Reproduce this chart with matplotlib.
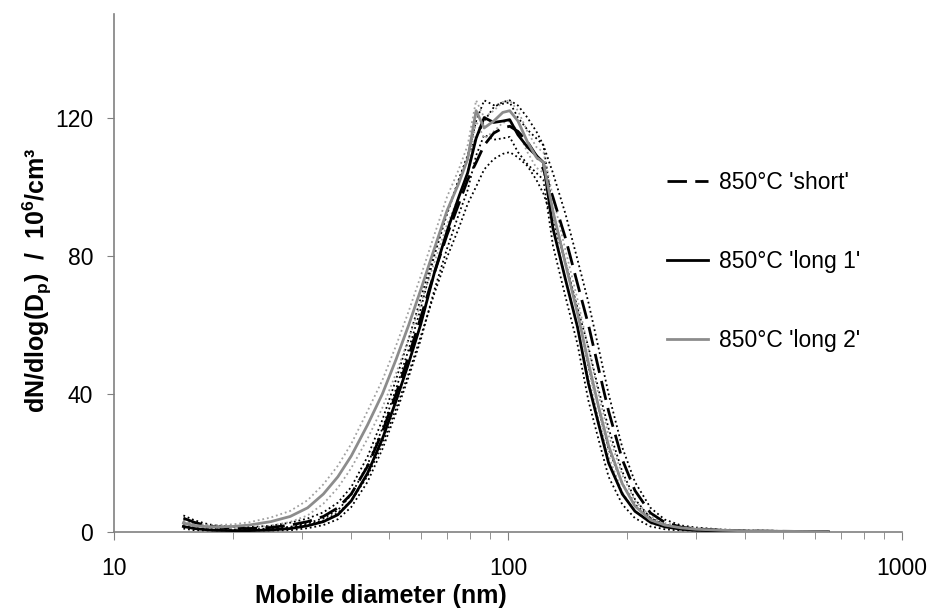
import matplotlib
matplotlib.use("Agg")
import matplotlib.pyplot as plt
import numpy as np

# mobility diameter bins (nm)
diameter = [15, 16, 17, 18, 20, 22, 25, 28, 31, 34, 37, 40, 44, 48, 52, 56, 60, 65, 70, 75,
            79, 83, 87, 92, 97, 101, 106, 112, 118, 123, 130, 140, 150, 160, 170, 180, 195,
            210, 230, 250, 275, 300, 350, 400, 500, 650]

# dN/dlog(Dp) in 10^6/cm3
short = [4.0, 2.8, 2.0, 1.5, 1.1, 1.0, 1.3, 2.0, 3.0, 4.5, 7.0, 11, 19, 29, 40, 51, 62, 75, 86, 95,
         102, 107, 112, 115.5, 117, 117.5, 116, 113, 109, 105, 97, 85, 72, 60, 47, 35, 21,
         12, 5.5, 2.8, 1.4, 0.9, 0.5, 0.3, 0.2, 0.1]
long1 = [1.6, 1.0, 0.7, 0.5, 0.4, 0.4, 0.6, 1.0, 1.8, 3.0, 5.0, 9, 17, 27, 38, 49, 60, 75, 87, 97,
         104, 114, 120, 118.6, 119, 119.4, 115, 111.5, 109, 107, 88, 73, 59.5, 43, 31, 20, 11,
         6, 2.8, 1.5, 0.8, 0.5, 0.3, 0.2, 0.15, 0.1]
long2 = [2.6, 1.9, 1.6, 1.5, 1.6, 2.0, 3.0, 4.5, 7.0, 11, 16, 22, 31, 40, 50, 60, 70, 82, 93, 101,
         108, 122, 117, 119, 121.5, 122, 119, 113, 108.5, 107, 93, 77.5, 63.5, 49, 36, 25, 14,
         7.5, 3.5, 2.0, 1.2, 0.8, 0.5, 0.35, 0.2, 0.1]

# spread between repeat scans (dotted bounds)
short_err = [0.8, 0.6, 0.5, 0.4, 0.4, 0.4, 0.5, 0.7, 0.9, 1.2, 1.5, 2, 2.8, 3.5, 4.2, 5, 5.5, 6, 6.5, 7,
             7, 7, 7, 7.5, 7.5, 7.5, 7.5, 7, 7, 7, 7, 7, 7, 6.5, 6, 5, 3.5,
             2.5, 1.5, 0.8, 0.5, 0.4, 0.2, 0.2, 0.1, 0.1]
long1_err = [0.6, 0.5, 0.4, 0.3, 0.3, 0.3, 0.4, 0.5, 0.7, 1.0, 1.3, 1.8, 2.5, 3, 3.5, 4, 4.5, 5, 5, 5,
             5, 5, 5, 5, 5, 5, 5, 5, 5, 5, 5, 5, 5, 5, 4.5, 4, 3,
             2, 1.2, 0.7, 0.4, 0.3, 0.2, 0.1, 0.1, 0.1]
long2_err = [0.6, 0.5, 0.5, 0.5, 0.6, 0.8, 1.2, 1.6, 2.2, 2.8, 3.2, 3.5, 4, 4, 4, 4, 4, 4, 4, 4,
             4, 3, 3, 3, 3, 3, 3, 3, 3, 3, 4, 4, 4, 4, 3.5, 3, 2.5,
             1.5, 1.0, 0.6, 0.4, 0.3, 0.2, 0.1, 0.1, 0.1]

labels = ["850°C 'short'", "850°C 'long 1'", "850°C 'long 2'"]

plt.rcParams["font.family"] = ["Liberation Sans", "DejaVu Sans"]
plt.rcParams["mathtext.fontset"] = "custom"
plt.rcParams["mathtext.rm"] = "Liberation Sans:bold"
plt.rcParams["mathtext.default"] = "rm"

fig = plt.figure(figsize=(9.3, 6.12), dpi=100)
ax = fig.add_axes([114 / 930, 80 / 612, 788 / 930, 518 / 612])

d = np.array(diameter)
gray = "#8c8c8c"
dots = (0, (1, 1.6))

series = [
    (short, short_err, "black", "black", (0, (7, 3))),
    (long1, long1_err, "black", "black", "-"),
    (long2, long2_err, gray, "#a0a0a0", "-"),
]

for y, err, col, dcol, ls in series:
    y = np.array(y)
    e = np.array(err)
    ax.plot(d, y + e, color=dcol, lw=1.3, linestyle=dots, zorder=2)
    ax.plot(d, np.clip(y - e, 0, None), color=dcol, lw=1.3, linestyle=dots, zorder=2)

for (y, err, col, dcol, ls), lab in zip(series, labels):
    ax.plot(d, y, color=col, lw=2.0, linestyle=ls, label=lab, zorder=3)

ax.set_xscale("log")
ax.set_xlim(10, 1000)
ax.set_ylim(0, 150)
ax.set_yticks([0, 40, 80, 120])
ax.set_xticks([10, 100, 1000])
ax.set_xticklabels(["10", "100", "1000"])
ax.tick_params(axis="both", which="both", direction="out", color="#808080", labelsize=16.5)
ax.tick_params(axis="x", which="major", length=6, pad=12)
ax.tick_params(axis="x", which="minor", length=5)
ax.tick_params(axis="y", length=5, pad=10)

for s in ["top", "right"]:
    ax.spines[s].set_visible(False)
for s in ["left", "bottom"]:
    ax.spines[s].set_color("#808080")
    ax.spines[s].set_linewidth(1.2)

ax.set_xlabel("Mobile diameter (nm)", fontsize=18, fontweight="bold")
ax.xaxis.set_label_coords(0.339, -0.1)
ax.set_ylabel(r"dN/dlog(D$_\mathregular{p}$)  /  10$^\mathregular{6}$/cm³", fontsize=18, fontweight="bold")
ax.yaxis.set_label_coords(-0.076, 0.485)

ax.legend(loc="center left", bbox_to_anchor=(0.702, 0.522), frameon=False, fontsize=16.5,
          labelspacing=2.45, handlelength=1.8, handletextpad=0.45, borderpad=0, borderaxespad=0)

fig.savefig("out.png", dpi=100)
